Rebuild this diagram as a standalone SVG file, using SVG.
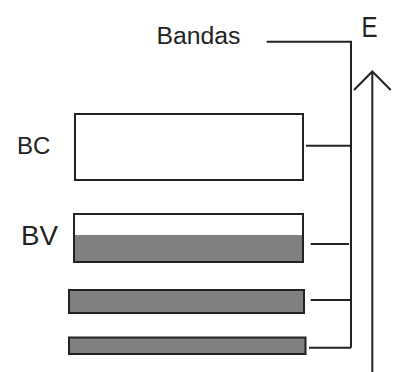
<svg xmlns="http://www.w3.org/2000/svg" width="394" height="372" viewBox="0 0 394 372">
<style>
.bg{fill:#ffffff}
.lbl{font-family:"Liberation Sans",Arial,sans-serif;fill:#222222}
.box{fill:#ffffff;stroke:#222222;stroke-width:2}
.fill{fill:#808080;stroke:none}
.out{fill:none;stroke:#222222;stroke-width:2}
.ln{fill:none;stroke:#222222;stroke-width:2}
</style>
<rect class="bg" x="0" y="0" width="394" height="372"/>
<g id="title">
<text class="lbl" x="156.5" y="44" font-size="23" textLength="84" lengthAdjust="spacingAndGlyphs">Bandas</text>
</g>
<g id="axis-E">
<text class="lbl" transform="translate(361.5 36.5) scale(1 1.15)" x="0" y="0" font-size="26" textLength="16" lengthAdjust="spacingAndGlyphs">E</text>
<path class="ln" d="M372.3 372 V72 M354 90 L372.3 71.5 L390.7 90"/>
</g>
<g id="band-BC">
<text class="lbl" x="17" y="153.5" font-size="24">BC</text>
<rect class="box" x="75" y="114" width="228" height="66"/>
</g>
<g id="band-BV">
<text class="lbl" transform="translate(21 245) scale(1 1.1)" x="0" y="0" font-size="25" textLength="37" lengthAdjust="spacingAndGlyphs">BV</text>
<rect class="box" x="74" y="214" width="229" height="48"/>
<rect class="fill" x="75" y="235" width="227" height="26"/>
<rect class="out" x="74" y="214" width="229" height="48"/>
</g>
<g id="band-3">
<rect class="out" x="69" y="290" width="235" height="23" style="fill:#808080"/>
</g>
<g id="band-4">
<rect class="out" x="69" y="337.5" width="236.5" height="16.5" style="fill:#808080"/>
</g>
<g id="connectors">
<path class="ln" d="M266.7 41.7 H351 V347.7"/>
<path class="ln" d="M306 145.7 H351"/>
<path class="ln" d="M310.7 244 H349"/>
<path class="ln" d="M310.7 300 H351"/>
<path class="ln" d="M309 347.7 H351"/>
</g>
</svg>
